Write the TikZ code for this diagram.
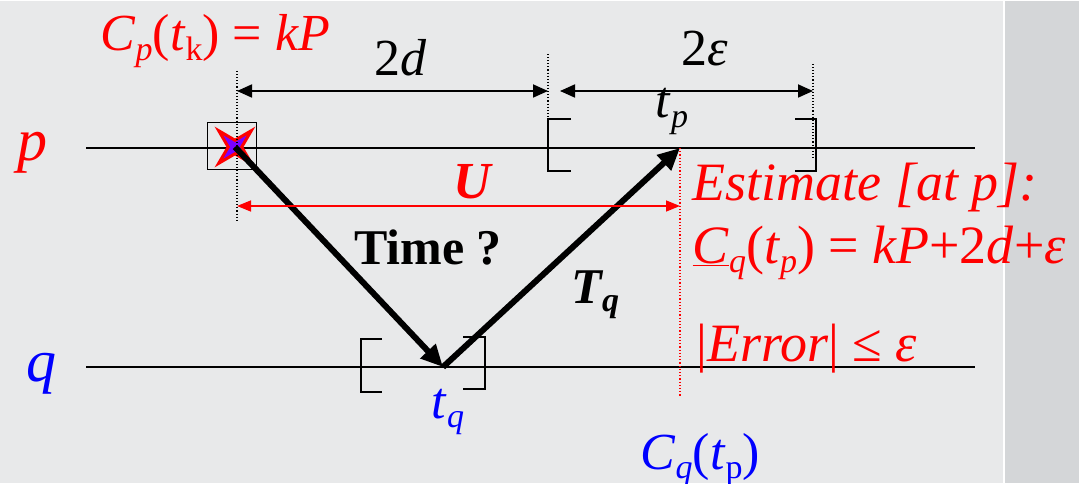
\documentclass[tikz,border=0pt]{standalone}
\usepackage{fontspec}
\setmainfont{Liberation Serif}
\usetikzlibrary{arrows.meta, positioning, calc, shapes.geometric}
\definecolor{procp}{HTML}{FF0000}
\definecolor{procq}{HTML}{0000FF}
\definecolor{marble}{HTML}{E8E9EA}
\definecolor{marbledark}{HTML}{D4D6D8}
\definecolor{starfill}{HTML}{7A00FF}
\newcommand{\lowsub}[1]{\raisebox{-0.38ex}{\fontsize{34}{40}\selectfont #1}}

\begin{document}
\begin{tikzpicture}[x=1pt, y=-1pt,
  big/.style={font=\fontsize{52}{60}\selectfont},
  huge/.style={font=\fontsize{60}{70}\selectfont},
  timeline/.style={line width=1.6pt},
  brk/.style={line width=1.5pt},
  guide/.style={dotted, line width=1.1pt},
  dims/.style={line width=1.8pt, {Triangle[length=15pt,width=13pt]}-{Triangle[length=15pt,width=13pt]}},
  msg/.style={line width=6pt, -{Triangle[length=22pt,width=20pt]}}]
  % background
  \fill[marble] (0,0) rectangle (1004,482);
  \fill[marbledark] (1004,0) rectangle (1079,482);
  \draw[white, line width=2pt] (1004,0) -- (1004,482);
  \useasboundingbox (0,0) rectangle (1079,482);
  % time lines
  \coordinate (p0) at (86,147);
  \coordinate (p1) at (975,147);
  \coordinate (q0) at (86,366);
  \coordinate (q1) at (975,366);
  \draw[timeline] (p0) -- (p1);
  \draw[timeline] (q0) -- (q1);
  \node[huge, procp, anchor=base] (plbl) at (32,160) {\textit{p}};
  \node[huge, procq, anchor=base] (qlbl) at (42,380) {\textit{q}};
  % send event at p
  \node[draw, line width=1.3pt, minimum width=49pt, minimum height=47pt, inner sep=0pt] (kpbox) at (232,145) {};
  \node[star, star points=4, star point ratio=3.4, minimum size=46pt, inner sep=0pt,
        rotate=45, draw=procp, line width=3pt, fill=starfill] (kp) at (235,146) {};
  \node[big, procp, anchor=base west] (cpk) at (97,50)
    {\textit{C}\lowsub{\textit{p}}(\textit{t}\lowsub{k}) = \textit{kP}};
  % guides
  \coordinate (g0a) at (237,70);
  \coordinate (g0b) at (237,220);
  \coordinate (g1a) at (548,53);
  \coordinate (g1b) at (548,120);
  \coordinate (g2a) at (813,63);
  \coordinate (g2b) at (813,158);
  \draw[guide] (g0a) -- (g0b);
  \draw[guide] (g1a) -- (g1b);
  \draw[guide] (g2a) -- (g2b);
  % dimensions
  \coordinate (d0) at (237,90);
  \coordinate (d1) at (548,90);
  \coordinate (e0) at (560,90);
  \coordinate (e1) at (813,90);
  \draw[dims] (d0) -- (d1);
  \draw[dims] (e0) -- (e1);
  \node[big, anchor=base] (twod) at (401,75) {2\textit{d}};
  \node[big, anchor=base] (twoeps) at (705,65) {2\textit{ε}};
  % uncertainty brackets
  \draw[brk] (571,118) -- (548,118) -- (548,170) -- (571,170);
  \draw[brk] (795,118) -- (816,118) -- (816,170) -- (795,170);
  \draw[brk] (382,338) -- (361,338) -- (361,391) -- (382,391);
  \draw[brk] (463,336) -- (485,336) -- (485,388) -- (463,388);
  % messages
  \coordinate (tq) at (443,366);
  \coordinate (tp) at (680,147);
  \draw[msg] (kp.center) -- (tq);
  \draw[msg] (tq) -- (tp);
  \node[big, procq, anchor=base west] (tqlbl) at (428,417) {\textit{t}\lowsub{\textit{q}}};
  \node[big, anchor=base west] (tplbl) at (652,117) {\textit{t}\lowsub{\textit{p}}};
  \node[font=\fontsize{50}{56}\selectfont\bfseries, anchor=base] (ask) at (428,263) {Time ?};
  \node[font=\fontsize{50}{56}\selectfont\bfseries\itshape, anchor=base west] (tql) at (568,302)
    {T\lowsub{q}};
  % round trip
  \coordinate (ua) at (680,395);
  \draw[procp, dotted, line width=1.2pt] (tp) -- (ua);
  \coordinate (u0) at (237,205);
  \coordinate (u1) at (680,205);
  \draw[procp, line width=1.5pt, {Triangle[length=14pt,width=11pt]}-{Triangle[length=14pt,width=11pt]}] (u0) -- (u1);
  \node[font=\fontsize{52}{60}\selectfont\bfseries\itshape, procp, anchor=base] (ulbl) at (472,197) {U};
  % estimate
  \node[font=\fontsize{54}{60}\selectfont, procp, anchor=base west] (est) at (689,200) {\textit{Estimate [at p]:}};
  \node[font=\fontsize{54}{60}\selectfont, procp, anchor=base west] (cqe) at (689,262)
    {\underline{\textit{C}}\lowsub{\textit{q}}(\textit{t}\lowsub{\textit{p}}) = \textit{kP}+2\textit{d}+\textit{ε}};
  \node[font=\fontsize{54}{60}\selectfont, procp, anchor=base west] (err) at (693,360) {|\textit{Error}| ≤ \textit{ε}};
  \node[big, procq, anchor=base west] (cqt) at (637,468)
    {\textit{C}\lowsub{\textit{q}}(\textit{t}\lowsub{p})};
\end{tikzpicture}
\end{document}
